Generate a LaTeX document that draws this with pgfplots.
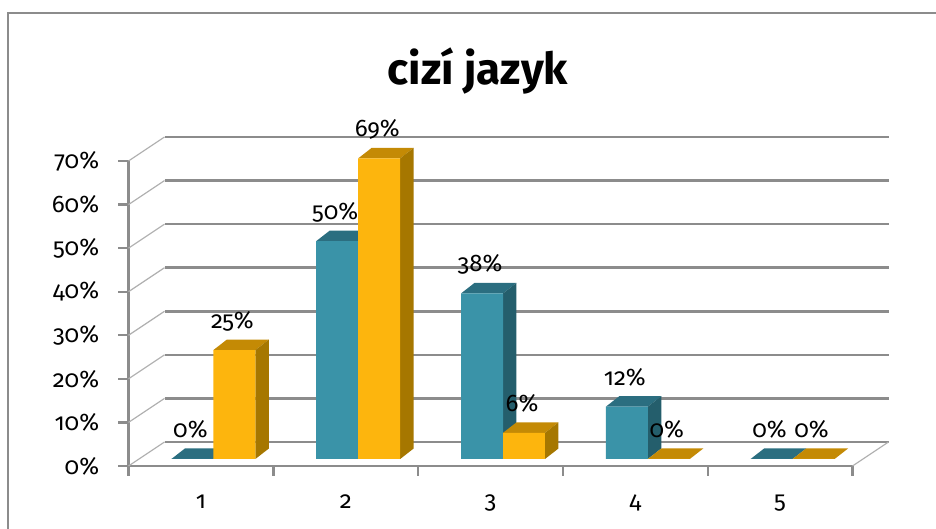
\documentclass[border=0pt]{standalone}
\usepackage{fontspec}
\setmainfont{Fira Sans}[Numbers=OldStyle]
\usepackage{pgfplots}
\pgfplotsset{compat=1.18}
\definecolor{gridc}{HTML}{8C8C8C}
\definecolor{wallc}{HTML}{B0B0B0}
\definecolor{tealF}{HTML}{3A93A8}
\definecolor{tealT}{HTML}{2B6E80}
\definecolor{tealS}{HTML}{245E6C}
\definecolor{orF}{HTML}{FDB50D}
\definecolor{orT}{HTML}{C48A05}
\definecolor{orS}{HTML}{A67700}

\pgfplotstableread{
k teal orange
1 0 25
2 50 69
3 38 6
4 12 0
5 0 0
}\data

\pgfplotsset{common/.style={scale only axis, width=362pt, height=152.5pt,
  xmin=0.5, xmax=5.5, ymin=0, ymax=70, anchor=south west,
  /pgf/number format/assume math mode=true}}

\begin{document}
\begin{tikzpicture}
\useasboundingbox (0pt,0pt) rectangle (468pt,264.5pt);
\draw[gridc, line width=1pt] (4pt,-20pt) -- (4pt,257.75pt) -- (490pt,257.75pt);
\node[font=\bfseries\fontsize{22}{26}\selectfont, anchor=base] at (239pt,222pt) {cizí jazyk};

% back wall
\begin{axis}[common, at={(82.25pt,43.5pt)}, axis line style={draw=none},
  xtick=\empty, ytick={0,10,...,70}, yticklabels={}, major tick length=0pt,
  ymajorgrids, grid style={gridc, line width=1.3pt}]
\addplot[draw=none] coordinates {(1,0)};
\end{axis}

% front axis
\begin{axis}[common, at={(64.25pt,31.5pt)}, clip=false,
  axis lines=left, axis line style={-, gridc, line width=1.3pt},
  tick align=outside, major tick length=5pt, tick style={gridc, line width=1.2pt},
  ytick={0,10,...,70},
  yticklabels={0\%,10\%,20\%,30\%,40\%,50\%,60\%,70\%},
  yticklabel style={font=\fontsize{12}{14}\selectfont, anchor=east, inner sep=0pt, xshift=-9.5pt},
  xtick={0.5,1.5,...,5.5}, xticklabels={},
  extra x ticks={1,2,3,4,5}, extra x tick labels={1,2,3,4,5},
  extra x tick style={major tick length=0pt,
    tick label style={font=\fontsize{12}{14}\selectfont, anchor=base, inner sep=0pt, yshift=-21.5pt}}]
\addplot[quiver={u=0.2486,v=5.508}, draw=wallc, line width=0.6pt, no marks]
  coordinates {(0.5,0)(0.5,10)(0.5,20)(0.5,30)(0.5,40)(0.5,50)(0.5,60)(0.5,70)(5.5,0)};
\end{axis}

% bar plane
\begin{axis}[common, at={(70.5pt,35pt)}, hide axis, clip=false,
  nodes near coords={\pgfmathprintnumber{\pgfplotspointmeta}\%},
  every node near coord/.append style={font=\fontsize{12}{14}\selectfont, anchor=base, yshift=10.75pt}]
% teal top faces
\addplot[fill=tealT, draw=none, nodes near coords={}] coordinates {(0.71,0)(1,0)(1.093,2.41)(0.803,2.41)};
\addplot[fill=tealT, draw=none, nodes near coords={}] coordinates {(1.71,50)(2,50)(2.093,52.41)(1.803,52.41)};
\addplot[fill=tealT, draw=none, nodes near coords={}] coordinates {(2.71,38)(3,38)(3.093,40.41)(2.803,40.41)};
\addplot[fill=tealT, draw=none, nodes near coords={}] coordinates {(3.71,12)(4,12)(4.093,14.41)(3.803,14.41)};
\addplot[fill=tealT, draw=none, nodes near coords={}] coordinates {(4.71,0)(5,0)(5.093,2.41)(4.803,2.41)};
% teal side faces
\addplot[fill=tealS, draw=none, nodes near coords={}] coordinates {(2,0)(2,50)(2.093,52.41)(2.093,2.41)};
\addplot[fill=tealS, draw=none, nodes near coords={}] coordinates {(3,0)(3,38)(3.093,40.41)(3.093,2.41)};
\addplot[fill=tealS, draw=none, nodes near coords={}] coordinates {(4,0)(4,12)(4.093,14.41)(4.093,2.41)};
% teal fronts
\addplot[ybar, bar width=0.29, bar shift=-0.145, fill=tealF, draw=none,
  every node near coord/.append style={xshift=-11.5pt}] table[x=k, y=teal] {\data};
% orange top faces
\addplot[fill=orT, draw=none, nodes near coords={}] coordinates {(1,25)(1.29,25)(1.383,27.41)(1.093,27.41)};
\addplot[fill=orT, draw=none, nodes near coords={}] coordinates {(2,69)(2.29,69)(2.383,71.41)(2.093,71.41)};
\addplot[fill=orT, draw=none, nodes near coords={}] coordinates {(3,6)(3.29,6)(3.383,8.41)(3.093,8.41)};
\addplot[fill=orT, draw=none, nodes near coords={}] coordinates {(4,0)(4.29,0)(4.383,2.41)(4.093,2.41)};
\addplot[fill=orT, draw=none, nodes near coords={}] coordinates {(5,0)(5.29,0)(5.383,2.41)(5.093,2.41)};
% orange side faces
\addplot[fill=orS, draw=none, nodes near coords={}] coordinates {(1.29,0)(1.29,25)(1.383,27.41)(1.383,2.41)};
\addplot[fill=orS, draw=none, nodes near coords={}] coordinates {(2.29,0)(2.29,69)(2.383,71.41)(2.383,2.41)};
\addplot[fill=orS, draw=none, nodes near coords={}] coordinates {(3.29,0)(3.29,6)(3.383,8.41)(3.383,2.41)};
% orange fronts
\addplot[ybar, bar width=0.29, bar shift=0.145, fill=orF, draw=none,
  every node near coord/.append style={xshift=9.5pt}] table[x=k, y=orange] {\data};
\end{axis}
\end{tikzpicture}
\end{document}
